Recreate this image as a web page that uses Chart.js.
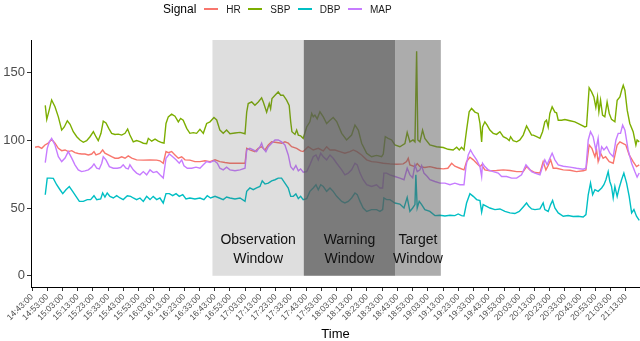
<!DOCTYPE html>
<html>
<head>
<meta charset="utf-8">
<script src="https://cdn.jsdelivr.net/npm/chart.js@4.4.0/dist/chart.umd.min.js"></script>
<style>
  html, body { margin: 0; padding: 0; background: #fff; }
  #wrap { position: relative; width: 640px; height: 341px; font-family: "Liberation Sans", Arial, sans-serif; }
  #legend { position: absolute; left: 163px; top: 1px; height: 16px; display: flex; align-items: center; white-space: nowrap; }
  #legend .title { font-size: 12px; color: #000; margin-right: 8px; }
  #legend .key { display: inline-block; width: 14px; height: 1.5px; margin-right: 8px; }
  #legend .lab { font-size: 10px; color: #1a1a1a; margin-right: 7.5px; }
</style>
</head>
<body>
<div id="wrap">
  <canvas id="chart" width="640" height="341"></canvas>
  <div id="legend"></div>
</div>
<script>
// x values are minutes after 14:43:00
const tickLabels = ['14:43:00','14:53:00','15:03:00','15:13:00','15:23:00','15:33:00','15:43:00','15:53:00',
  '16:03:00','16:13:00','16:23:00','16:33:00','16:43:00','16:53:00','17:03:00','17:13:00','17:23:00','17:33:00',
  '17:43:00','17:53:00','18:03:00','18:13:00','18:23:00','18:33:00','18:43:00','18:53:00','19:03:00','19:13:00',
  '19:23:00','19:33:00','19:43:00','19:53:00','20:03:00','20:13:00','20:23:00','20:33:00','20:43:00','20:53:00',
  '21:03:00','21:13:00'];
const yTicks = [0, 50, 100, 150];

const signalNames = ['HR', 'SBP', 'DBP', 'MAP'];

const hrTime = [2.0,4.1,6.4,8.5,10.7,12.9,15.1,17.3,19.5,21.7, 23.8,26.1,28.2,30.4,32.6,34.8,37.0,39.2,40.7,42.0,
  44.6,46.4,47.9,50.1,52.3,54.5,56.7,58.9,61.1,63.2, 65.5,68.7,73.1,77.5,81.9,84.0,86.2,88.0,89.5,91.7,
  93.9,96.1,98.3,100.5,103.7,107.0,110.3,113.6,116.9,120.2, 123.4,126.7,130.0,134.4,139.9,141.0,143.1,146.4,148.6,150.8,
  153.0,155.2,157.4,160.7,164.0,166.1,168.3,170.5,173.8,176.4, 178.1,181.4,184.7,188.0,191.3,193.5,195.7,199.0,202.2,205.5,
  208.8,211.0,213.4,216.5,219.8,223.0,226.5,230.7,235.1,239.5, 243.8,246.0,247.1,248.2,251.5,253.0,254.8,258.0,261.3,265.7,
  270.1,273.1,275.6,277.7,281.0,283.7,285.4,287.6,289.8,292.0, 294.2,295.3,297.4,300.7,305.1,309.5,313.9,318.3,322.6,324.8,
  327.0,330.3,333.6,335.7,337.5,339.0,340.6,342.3,344.5,348.9, 353.3,357.6,362.0,363.8,365.9,367.7,369.7,370.8,371.8,373.4,
  375.1,376.7,379.1,381.7,384.3,386.1,388.3,390.0,392.2,394.8, 397.0,398.8];
const hrValues = [95,95.5,94.2,96.7,98,100.9,98,94.2,92.5,93, 91.8,92.5,91,90.4,90,90,89.3,90,91.8,89.3,
  90.4,93,90.6,89.3,88,86.9,86.9,88,86.9,88.6, 87,85.7,85.5,85.7,85.5,85,83.2,91.8,91,91.8,
  89.3,86.9,88,85.7,85.5,84.4,84.4,85,84.4,85.7, 84.4,83.7,83.2,83.2,83.2,94.2,93,91.8,94.2,95.4,
  93,96.7,99,98.5,98,99,98,95.4,94.2,92.3, 91.8,95.4,93,94.2,92.3,95.4,93,93,91.8,90.6,
  91.8,93,91.8,89.3,85.7,84.4,84,83.2,82.7,82.5, 82.7,84.4,86.9,82,80.7,83,80.7,80,80.7,79.5,
  79,79.5,83.2,81,79.5,78.3,84.4,87.6,85.7,83.2, 80.7,82,78.3,77.6,77.8,78.3,77.8,77,77,80.7,
  78.3,76.3,76,84.4,78.3,81.5,85.7,79.5,79.5,78.3, 78,77,77.6,78.3,96.7,94.2,88,93,84.4,90.6,
  86.9,88,84.4,83.2,96.7,99,97.7,96.7,89.3,84.4, 80.7,82];

const sbpTime = [8.7,9.7,11.4,12.9,15.1,17.3,19.5,21.2,23.2,25.0, 27.1,29.4,31.5,33.7,35.9,38.1,40.3,42.0,43.5,45.3,
  46.8,48.6,50.4,52.3,54.5,56.7,58.9,61.1,62.8,64.3, 66.5,68.7,70.9,73.1,75.3,76.4,78.6,80.8,82.9,85.2,
  86.7,88.0,89.5,91.7,93.9,96.1,97.6,99.3,101.6,103.7, 105.9,108.1,110.3,112.5,114.7,116.9,119.5,121.3,123.4,125.6,
  127.8,130.0,133.3,136.6,139.9,141.0,142.0,144.3,146.4,148.6, 150.8,151.9,154.1,155.8,156.7,157.6,159.6,161.7,163.3,165.0,
  167.2,168.9,169.9,170.7,172.7,173.8,174.9,176.4,178.1,180.4, 182.5,183.7,184.7,185.8,187.3,189.1,191.3,193.5,195.7,197.8,
  200.1,203.4,206.6,209.9,212.1,214.3,216.5,219.8,223.0,226.3, 229.6,230.7,232.0,233.9,236.2,238.3,241.6,244.9,246.4,248.2,
  250.2,251.5,252.6,253.4,254.8,256.5,258.0,261.3,265.7,270.1, 273.3,276.6,278.9,280.6,282.1,283.7,285.4,287.1,288.7,290.9,
  293.0,294.2,295.3,295.9,297.4,298.9,300.7,302.9,305.1,307.3, 309.5,311.7,313.4,314.3,316.0,318.3,320.4,322.6,324.8,326.3,
  328.1,329.2,331.4,333.6,335.3,336.8,337.9,339.0,340.1,341.6, 343.4,344.5,345.6,347.8,350.0,353.3,356.5,359.8,363.1,364.2,
  365.9,367.5,369.0,370.3,371.4,372.3,373.4,374.7,376.2,377.7, 379.1,380.6,382.8,384.3,386.1,387.2,388.3,389.4,390.9,392.6,
  394.8,396.6,397.4,398.8];
const sbpValues = [126,115.6,123,130,125,117.5,107.7,110,114.6,112, 106.5,102.8,100.4,98.7,99.9,102.8,106.5,102.8,99.9,105.3,
  114.3,113,109,105.3,104.5,104.7,104,105.3,108.5,104, 99,100,99.2,98,97.7,101.6,99.5,101,99.5,98.5,
  98,112.6,117.5,119.5,118,113.8,116.3,115,109,105.3, 105.8,105.3,108.2,105.3,112.6,113.8,117,115.2,107.7,105.3,
  107.7,105,105.5,106,105,121,127.3,128.5,126,128.5, 131.5,128.5,121,127.3,123.5,131,133.5,135.9,133.5,133.5,
  129.8,126,113.8,106.5,104.5,107.7,104,103.5,101.6,110, 113.8,120,117.5,118.8,116,121.2,117.5,112.6,115,117,
  114,105.3,100.4,104,111.4,107.7,98,90.6,88,89, 88,90,102.8,101.6,100.4,96.7,95.4,97.7,106,99,
  100.4,99,166,100.4,99,107.7,101.6,96.7,95.4,94.8, 93.5,93,95,93,95,93,107.7,121.2,123.7,121,
  120,112.6,99,110,113.8,111.4,107.7,105.3,104.5,106.5, 102.8,101.6,99.9,102.8,99.9,99,100.4,104,110.7,107.7,
  104,104,102.8,101.6,106.5,113.8,115,110,120,124.9, 121,120.5,115,115,115.5,114.6,113.8,112,110,110.5,
  139,135.9,132.2,124.4,132.2,121.2,129.8,118.8,117.5,128.5, 120,115.6,113.8,129.8,132.2,137,140.8,137,122.4,112.6,
  106.5,96.7,100.4,99];

const dbpTime = [8.7,10.0,11.8,14.0,16.2,18.4,20.2,22.3,24.5,26.7, 28.9,31.1,33.7,36.3,38.5,40.7,42.5,45.1,46.4,47.9,
  49.4,51.2,53.4,55.6,57.8,59.9,62.6,64.8,66.5,68.7, 70.9,73.1,75.3,77.5,79.6,81.9,84.0,86.2,88.0,90.2,
  92.4,94.6,96.7,99.0,101.1,103.7,107.0,110.3,112.9,115.1, 117.3,120.2,123.0,125.6,127.8,130.0,133.3,136.6,139.9,141.0,
  143.1,145.3,147.5,149.7,151.2,153.0,155.2,157.4,159.6,161.7, 163.9,166.1,168.3,169.9,171.6,173.3,174.9,176.4,178.1,180.4,
  182.5,184.7,186.5,188.0,189.6,191.3,193.5,195.7,197.8,200.1, 203.4,205.5,207.7,209.9,212.1,213.6,215.4,217.5,219.8,223.0,
  226.3,228.5,230.3,231.1,232.9,235.1,238.3,241.6,244.3,246.4, 248.2,250.0,251.5,252.1,253.0,254.3,255.9,258.0,261.3,264.6,
  267.9,271.2,274.5,277.7,279.9,282.1,283.7,285.4,287.6,289.8, 292.0,294.2,295.3,296.3,298.6,300.7,304.0,307.3,310.6,313.9,
  317.1,320.0,322.6,324.8,326.3,328.1,330.3,333.6,335.7,336.8, 339.0,340.6,341.9,343.4,345.6,348.9,352.1,355.4,358.7,362.0,
  363.8,365.3,366.8,368.2,369.7,371.8,374.1,375.6,376.9,378.4, 379.5,380.6,381.7,382.8,384.3,385.6,387.2,388.7,390.5,392.2,
  393.8,395.3,397.0,398.8];
const dbpValues = [59.9,72.2,72.2,72,67.3,63.6,60.7,63.6,66,62.4, 58.7,55,55,56.3,56.3,59.2,56.3,56.8,61.2,58.2,
  61.2,58.7,57.5,59.2,57.5,56.3,59.2,58.7,57.5,56.3, 57.5,55,58.7,56.3,58.7,56.3,57.5,53.8,60.7,60.7,
  59.2,60.7,58.7,60,56.8,57.5,56.8,57.5,56.3,59.2, 57.5,58.7,57.5,56.3,58.2,57.5,56.8,57.5,55,62.4,
  64.9,63.6,64.9,66,70.2,67.8,68.5,70.2,71,72.2, 72.2,68.5,64.9,58.7,58.7,60.5,57,58.7,56.3,57,
  62.4,64.9,67.3,63.6,67.3,66,62.4,64.9,62.4,58.7, 55,53.8,55,57.5,61.2,60,55,50.1,47.6,48.9,
  48.9,47.6,48.9,57.5,56.3,56.3,53.8,53,50.1,58, 47.6,50.1,52.6,74.6,50.1,55,52.6,48.9,47.6,44.5,
  44.7,44.2,44.7,44.5,45.7,44.5,44.2,53.8,60.7,58.7, 56.3,55.6,47,52.6,51.3,50.1,48.9,49.4,47.6,46.5,
  46,47.6,50.9,53.8,51.3,49.4,48.9,49.4,53.8,48.9, 47.6,52.6,55.7,50.1,46.5,44,44.5,43.8,44,43.5,
  45.2,59.9,68.5,59.9,63.6,62.4,64.9,67.3,71,77, 69.7,66,57.5,66,58.7,64.9,71,75.9,68.5,58.7,
  46.5,49,44,41];

const mapTime = [8.7,10.0,11.4,12.9,15.1,17.3,19.5,21.7,23.8,26.1, 28.2,30.4,32.6,34.8,37.0,39.2,40.7,42.5,44.2,45.8,
  46.8,48.6,50.8,53.4,56.0,58.2,59.9,61.7,63.2,64.3, 66.5,68.7,70.9,73.1,75.3,77.5,79.6,81.9,84.0,86.2,
  88.0,90.2,92.4,94.6,96.7,98.3,99.8,102.0,104.9,107.7, 110.3,112.5,114.7,116.9,119.5,121.7,123.4,125.6,127.8,130.0,
  133.3,136.6,139.9,141.0,143.1,145.3,147.5,149.7,150.8,151.9, 153.6,155.2,157.4,159.6,161.7,163.9,166.1,168.3,169.9,171.6,
  173.3,174.9,176.4,178.1,180.4,182.5,184.7,186.5,188.0,189.6, 191.3,193.5,195.7,197.8,200.1,203.4,205.5,207.7,209.9,212.1,
  213.6,215.4,217.5,219.8,223.0,226.3,228.5,230.3,231.1,232.9, 235.1,238.3,241.6,244.3,246.4,248.2,250.0,251.5,253.0,254.8,
  255.9,257.4,259.6,261.3,264.6,267.9,271.2,274.5,277.7,281.0, 283.7,285.0,286.5,288.0,289.8,292.0,294.2,295.3,295.9,297.4,
  299.6,302.9,306.2,308.4,311.7,315.0,318.3,321.5,324.4,326.3, 328.1,330.3,333.6,335.3,336.8,338.3,340.1,341.6,343.4,345.6,
  348.9,353.3,357.6,362.0,363.8,365.3,366.8,368.5,370.3,371.8, 372.9,374.1,375.6,377.4,379.5,381.7,383.5,385.0,386.5,387.9,
  389.4,391.5,393.8,395.9,397.4,398.8];
const mapValues = [83.7,94.2,99,101.6,96.7,88,84.4,87,91.8,87, 82,78.3,77,77.5,78.3,80.3,82.7,79.5,79,83.2,
  88,85.7,80.7,79.5,79.5,80,82,79.5,79,82, 78.3,75.9,74.6,77,74.6,78.3,76.3,77,74.6,72.2,
  86.9,90,88,85.7,83.2,85.7,81.3,79.5,79.5,80.3, 79.5,82,84.4,83.7,85.2,83.2,79.5,78.3,80.3,78.3,
  77.6,78.3,79.5,93,94.2,93,91.8,95.4,98,94.2, 91.8,95.4,98,100.4,100.4,99,96.7,89.3,80.7,78.3,
  81.5,77.6,79,76.6,77,82,88,89.3,85.7,90.6, 88,85.7,89.3,86.9,83.2,78.3,74.6,75.9,78.3,83.2,
  82,75.9,71,67.3,66,67.3,64.9,64.9,75.9,75.9, 74.6,73.4,72.2,71,79.5,74.6,72.5,82,77,78.3,
  81.5,75.9,73.4,71,69.7,68.5,68.5,67.3,68.5,67.3, 67.3,80.7,89.3,93,89.3,85.7,80.7,73.4,83.2,80.7,
  78.3,77,75.9,73.4,73.4,72.2,72.2,74.6,82,79.5, 77,75.9,74.6,80.7,85.7,82,86.9,90.6,85.7,82,
  81,80.3,79.5,78.8,79.5,100.4,106.5,102.8,93,101.6, 88,95.4,93,95.4,90.6,88,100.4,105.3,105.3,111.4,
  107.7,93,83.2,77,72.9,76];

// shaded windows (minutes after 14:43:00), labels sit at these y values
const windowNames = ['Observation\nWindow', 'Warning\nWindow', 'Target\nWindow'];
const windowStart = [118.5, 178.5, 238.5];
const windowEnd = [178.5, 238.5, 268.5];
const windowLabelY = [26.5, 12];

const colors = ['#F8766D', '#7CAE00', '#00BFC4', '#C77CFF'];
const windowFill = ['rgba(90,90,90,0.2)', 'rgba(90,90,90,0.8)', 'rgba(90,90,90,0.5)'];
const FONT = '"Liberation Sans", Arial, sans-serif';

const toMin = (s) => { const p = s.split(':').map(Number); return p[0]*60 + p[1] + p[2]/60; };
const start = toMin(tickLabels[0]);
const tickValues = tickLabels.map(l => toMin(l) - start);

const series = [[hrTime, hrValues], [sbpTime, sbpValues], [dbpTime, dbpValues], [mapTime, mapValues]];

// legend
const leg = document.getElementById('legend');
leg.innerHTML = '<span class="title">Signal</span>' + signalNames.map((n,i)=>
  `<span class="key" style="background:${colors[i]}"></span><span class="lab">${n}</span>`).join('');

const windowPlugin = {
  id: 'windows',
  afterDatasetsDraw(chart){
    const {ctx, chartArea, scales:{x, y}} = chart;
    const y0 = y.getPixelForValue(0);
    ctx.save();
    windowNames.forEach((name,i)=>{
      const x0 = x.getPixelForValue(windowStart[i]), x1 = x.getPixelForValue(windowEnd[i]);
      ctx.fillStyle = windowFill[i];
      ctx.fillRect(x0, chartArea.top, x1 - x0, y0 - chartArea.top);
    });
    ctx.fillStyle = '#111';
    ctx.font = '14px ' + FONT;
    ctx.textAlign = 'center';
    ctx.textBaseline = 'middle';
    windowNames.forEach((name,i)=>{
      const cx = (x.getPixelForValue(windowStart[i]) + x.getPixelForValue(windowEnd[i])) / 2;
      name.split('\n').forEach((line,j)=> ctx.fillText(line, cx, y.getPixelForValue(windowLabelY[j])));
    });
    ctx.restore();
  }
};

Chart.defaults.font.family = FONT;

new Chart(document.getElementById('chart'), {
  type: 'line',
  data: {
    datasets: series.map(([t, v], i) => ({
      label: signalNames[i],
      data: t.map((tt, k) => ({ x: tt, y: v[k] })),
      borderColor: colors[i],
      borderWidth: 1.4,
      pointRadius: 0,
      tension: 0,
      fill: false,
      order: 3 - i
    }))
  },
  options: {
    responsive: false,
    animation: false,
    devicePixelRatio: 1,
    layout: { padding: { top: 40, left: 0, right: 0, bottom: 0 } },
    plugins: { legend: { display: false }, tooltip: { enabled: false } },
    scales: {
      x: {
        type: 'linear',
        min: -0.66,
        max: 399.3,
        afterBuildTicks: (s) => { s.ticks = tickValues.map(v => ({ value: v })); },
        afterFit: (s) => { s.height = 54; },
        ticks: {
          autoSkip: false, minRotation: 45, maxRotation: 45, padding: 1,
          font: { size: 8.5 }, color: '#4d4d4d',
          callback: (v, i) => tickLabels[i]
        },
        grid: { drawOnChartArea: false, drawTicks: true, tickLength: 4, color: '#333' },
        border: { display: true, color: '#000', width: 1 },
        title: { display: true, text: 'Time', color: '#000', font: { size: 13, lineHeight: 1 }, padding: { top: 0, bottom: 0 } }
      },
      y: {
        type: 'linear',
        min: -8.3,
        max: 174.3,
        afterBuildTicks: (s) => { s.ticks = yTicks.map(v => ({ value: v })); },
        afterFit: (s) => { s.width = 31; },
        ticks: { padding: 2, font: { size: 13 }, color: '#4d4d4d' },
        grid: { drawOnChartArea: false, drawTicks: true, tickLength: 4, color: '#333' },
        border: { display: true, color: '#000', width: 1 }
      }
    }
  },
  plugins: [windowPlugin]
});
</script>
</body>
</html>
